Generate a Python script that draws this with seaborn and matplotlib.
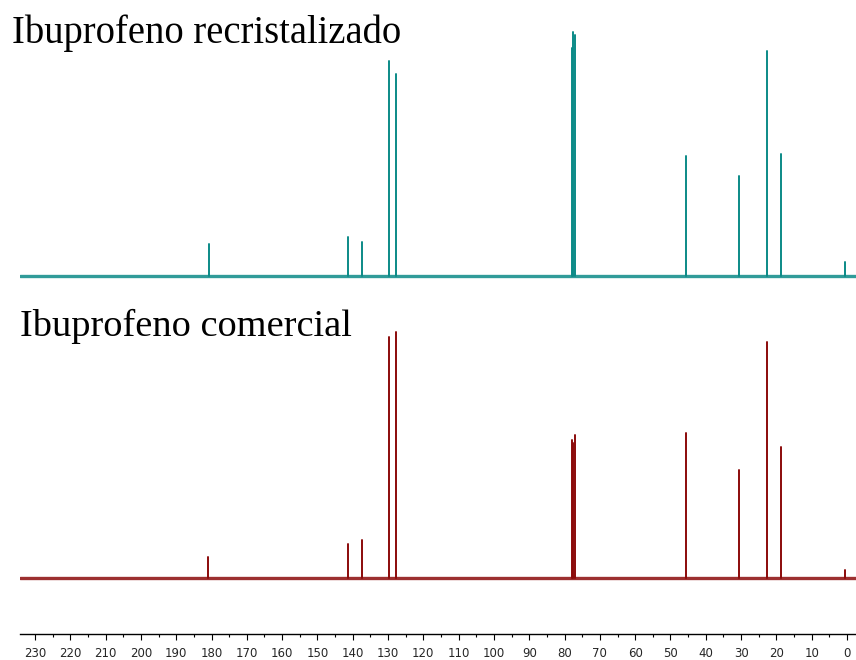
import matplotlib
matplotlib.use("Agg")
import matplotlib.pyplot as plt
from matplotlib.ticker import MultipleLocator
import pandas as pd
import seaborn as sns

# 13C NMR peak list (chemical shift in ppm, peak height in arbitrary units)
shifts_recryst = [180.7, 141.3, 137.3, 129.8, 127.8, 77.9, 77.6, 77.1, 45.7, 30.7, 22.8, 18.6, 0.6]
heights_recryst = [32, 39, 34, 215, 202, 228, 244, 241, 120, 100, 225, 122, 14]

shifts_comercial = [181.0, 141.3, 137.3, 129.8, 127.8, 77.9, 77.6, 77.1, 45.7, 30.7, 22.8, 18.6, 0.6]
heights_comercial = [21, 34, 38, 241, 246, 138, 135, 143, 145, 108, 236, 131, 8]

tick_ppm = list(range(0, 231, 10))

title_recryst = "Ibuprofeno recristalizado"
title_comercial = "Ibuprofeno comercial"

color_recryst = "#0b8a87"
color_comercial = "#8b0a0a"

sns.set_style("white")
plt.rcParams["font.family"] = ["Liberation Sans Narrow", "DejaVu Sans"]

W, H = 856, 660
fig = plt.figure(figsize=(W / 100, H / 100), dpi=100)


def sticks(shifts, heights):
    rows = []
    for i, (s, h) in enumerate(zip(shifts, heights)):
        rows.append({"ppm": s, "intensity": 0.0, "peak": i})
        rows.append({"ppm": s, "intensity": float(h), "peak": i})
    return pd.DataFrame(rows)


def px_axes(left, top, right, bottom):
    return fig.add_axes([left / W, 1 - bottom / H, (right - left) / W, (bottom - top) / H])


ax_top = px_axes(20, 20, 856, 295)
ax_bot = px_axes(20, 315, 856, 634)

panels = [
    (ax_top, shifts_recryst, heights_recryst, color_recryst, (-19, 256)),
    (ax_bot, shifts_comercial, heights_comercial, color_comercial, (-56, 263)),
]

for ax, shifts, heights, color, ylim in panels:
    ax.axhline(0, color=color, lw=2.4, alpha=0.85, zorder=1)
    sns.lineplot(data=sticks(shifts, heights), x="ppm", y="intensity", units="peak",
                 estimator=None, sort=False, color=color, lw=1.4, ax=ax, zorder=2)
    ax.set_xlim(234.25, -2.55)
    ax.set_ylim(*ylim)
    ax.set_xlabel("")
    ax.set_ylabel("")
    ax.set_yticks([])
    ax.patch.set_alpha(0)
    for side in ("top", "right", "left", "bottom"):
        ax.spines[side].set_visible(False)

ax_top.set_xticks([])

ax_bot.spines["bottom"].set_visible(True)
ax_bot.spines["bottom"].set_color("black")
ax_bot.spines["bottom"].set_linewidth(1.0)
ax_bot.set_xticks(tick_ppm)
ax_bot.set_xticklabels([str(t) for t in tick_ppm])
ax_bot.xaxis.set_minor_locator(MultipleLocator(5))
ax_bot.tick_params(axis="x", which="major", direction="out", length=4.3, width=0.8,
                   color="black", labelsize=8.5, pad=5, bottom=True)
ax_bot.tick_params(axis="x", which="minor", direction="out", length=2.2, width=0.8,
                   color="black", bottom=True)

fig.text(12 / W, 1 - 43.5 / H, title_recryst, family="Liberation Serif",
         fontsize=27.8, va="baseline", ha="left", color="black")
fig.text(20 / W, 1 - 336 / H, title_comercial, family="Liberation Serif",
         fontsize=27.6, va="baseline", ha="left", color="black")

fig.savefig("out.png", dpi=100)
